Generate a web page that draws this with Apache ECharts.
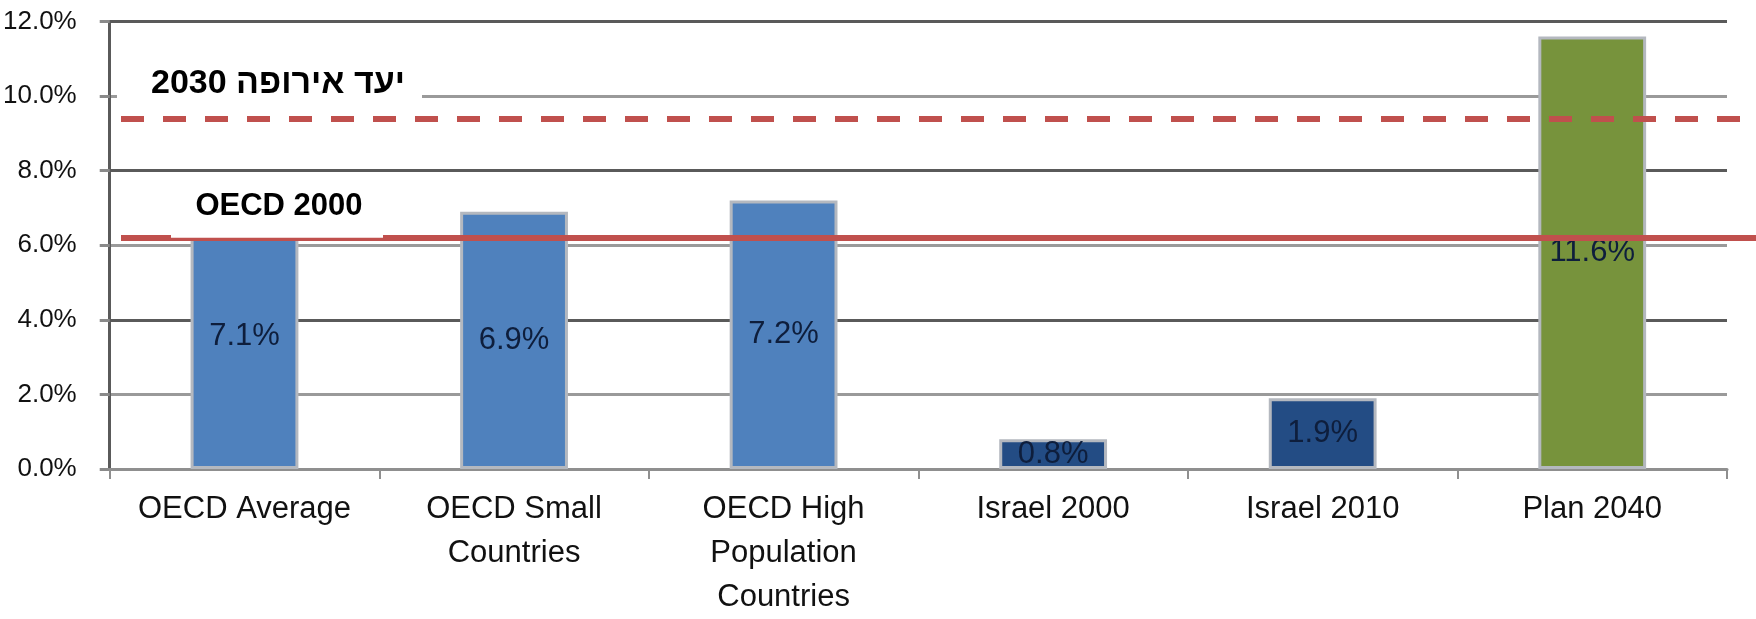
<!DOCTYPE html>
<html><head><meta charset="utf-8">
<script src="https://cdn.jsdelivr.net/npm/echarts@6/dist/echarts.min.js"></script>
<style>html,body{margin:0;padding:0;background:#fff}#c{width:1756px;height:619px}</style>
</head><body><div id="c"></div>
<script>
const categories = ['OECD Average', 'OECD Small\nCountries', 'OECD High\nPopulation\nCountries', 'Israel 2000', 'Israel 2010', 'Plan 2040'];
const values = [7.1, 6.9, 7.2, 0.8, 1.9, 11.6];
const barColors = ['#4f81bd', '#4f81bd', '#4f81bd', '#234c84', '#234c84', '#77933c'];
const yMin = 0, yMax = 12, yStep = 2;
const oecd2000Value = 6.2;
const europe2030Value = 9.4;
const oecd2000Label = 'OECD 2000';
const europe2030Label = 'יעד אירופה 2030';

const FONT = '"Liberation Sans", Arial, sans-serif';
const chart = echarts.init(document.getElementById('c'), null, {renderer: 'canvas'});
const option = {
  animation: false,
  backgroundColor: '#fff',
  grid: {left: 107, right: 29, top: 21.5, bottom: 143, containLabel: false},
  xAxis: {
    type: 'category',
    data: categories,
    axisLine: {lineStyle: {color: '#8f8f8f', width: 3}},
    axisTick: {show: true, length: 10, lineStyle: {color: '#8f8f8f', width: 2}},
    axisLabel: {interval: 0, margin: 18, fontFamily: FONT, fontSize: 31, color: '#111', lineHeight: 44}
  },
  yAxis: {
    type: 'value', min: yMin, max: yMax, interval: yStep,
    axisLine: {show: true, lineStyle: {color: '#5a5a5a', width: 3}},
    axisTick: {show: true, length: 10, lineStyle: {color: '#8a8a8a', width: 3}},
    axisLabel: {margin: 33, fontFamily: FONT, fontSize: 26, color: '#111',
      formatter: v => v.toFixed(1) + '%'},
    splitLine: {show: true, lineStyle: {color: ['#5a5a5a', '#9a9a9a'], width: 3}}
  },
  series: [{
    type: 'bar',
    barWidth: '40%',
    data: values.map((v, i) => ({value: v, itemStyle: {color: barColors[i]}})),
    itemStyle: {borderColor: '#b4b8bf', borderWidth: 3},
    label: {show: true, position: 'inside', fontFamily: FONT, fontSize: 31, color: '#0e1e3c',
      formatter: p => p.value.toFixed(1) + '%'},
    markLine: {
      silent: true, symbol: 'none', label: {show: false}, z: 5,
      data: [
        [{yAxis: oecd2000Value, x: 121, lineStyle: {color: '#c0504d', width: 6, type: 'solid'}}, {yAxis: oecd2000Value, x: 1756}],
        [{yAxis: europe2030Value, x: 121, lineStyle: {color: '#c0504d', width: 6, type: [23, 19]}}, {yAxis: europe2030Value, x: 1742}]
      ]
    }
  }]
};
chart.setOption(option);

const yO = chart.convertToPixel({yAxisIndex: 0}, oecd2000Value);
const yE = chart.convertToPixel({yAxisIndex: 0}, europe2030Value);
chart.setOption({
  graphic: [
    {type: 'rect', z: 100, shape: {x: 171, y: yO - 58, width: 212, height: 58}, style: {fill: '#fff'}},
    {type: 'text', z: 101, x: 279, y: yO - 31, style: {text: oecd2000Label, font: 'bold 31px "Liberation Sans", Arial, sans-serif', fill: '#000', align: 'center', verticalAlign: 'middle'}},
    {type: 'rect', z: 100, shape: {x: 117, y: yE - 60, width: 305, height: 52}, style: {fill: '#fff'}},
    {type: 'text', z: 101, x: 278, y: yE - 35, style: {text: europe2030Label, font: 'bold 34px "Liberation Sans", "DejaVu Sans", sans-serif', fill: '#000', align: 'center', verticalAlign: 'middle'}}
  ]
});
</script>
</body></html>
